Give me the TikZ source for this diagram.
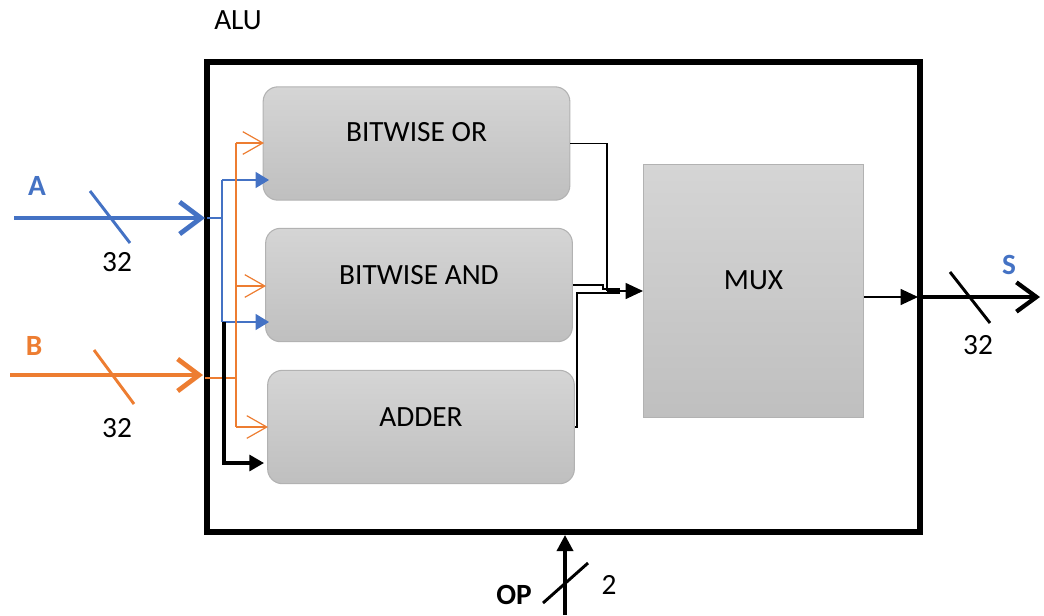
\documentclass[tikz,border=0pt]{standalone}
\usepackage{fontspec}
\setmainfont{Carlito}
\usetikzlibrary{arrows.meta}
\definecolor{abus}{HTML}{4472C4}
\definecolor{bbus}{HTML}{ED7D31}
\tikzset{
  unit/.style={draw=gray!60, line width=0.8pt, rounded corners=11pt,
    top color=gray!33, bottom color=gray!50, minimum width=230pt, minimum height=85pt},
  txt/.style={font=\fontsize{22}{26}\selectfont},
  btxt/.style={font=\fontsize{22}{26}\selectfont\bfseries},
  bus/.style={line width=3.6pt, -{Straight Barb[length=16pt,width=24pt,line width=3.6pt]}},
  tick/.style={line width=2.2pt},
  wire/.style={line width=0.9pt},
}
\begin{document}
\begin{tikzpicture}[x=0.75pt,y=-0.75pt]
  \useasboundingbox (0,0) rectangle (1044,615);
  % outer box
  \draw[line width=3.8pt] (207,62) rectangle (920,532);
  \node[txt] (alu) at (238,20) {ALU};
  % the three units and the mux
  \node[unit] (bor) at (416.5,143.5) [label={[txt,yshift=8.5pt]center:BITWISE OR}] {};
  \node[unit] (band) at (419,285) [label={[txt,yshift=7.5pt]center:BITWISE AND}] {};
  \node[unit] (badd) at (421,427) [label={[txt,yshift=7.5pt]center:ADDER}] {};
  \node[unit, rounded corners=0pt, minimum width=165pt, minimum height=190pt] (mux) at (753.5,291)
    [label={[txt,yshift=8pt]center:MUX}] {};
  % input A
  \draw[bus, abus] (14,218) -- (205,218);
  \draw[tick, abus] (90,191) -- (130,243);
  \node[btxt, abus] (la) at (37,186) {A};
  \node[txt] (wa) at (117,262) {32};
  % input B
  \draw[bus, bbus] (10,375) -- (203,375);
  \draw[tick, bbus] (94,350) -- (134,404);
  \node[btxt, bbus] (lb) at (34,346) {B};
  \node[txt] (wb) at (117,428) {32};
  % A fans out
  \draw[wire, abus] (207,218) -- (222,218);
  \draw[wire, abus] (222,180) -- (222,322);
  \foreach \y in {180,322}
    \draw[wire, abus, -{Triangle[length=10pt,width=12pt]}] (222,\y) -- (269,\y);
  % B fans out
  \draw[wire, bbus] (205,378) -- (236,378);
  \draw[wire, bbus] (236,143) -- (236,427);
  \foreach \y / \x in {143/264,286/266,427/268}
    \draw[wire, bbus, -{Straight Barb[length=15pt,width=17pt]}] (236,\y) -- (\x,\y);
  % carry in
  \draw[line width=2.4pt, -{Triangle[length=11pt,width=12pt]}] (224,322) |- (264,463);
  % results into the mux
  \coordinate (join) at (607,291);
  \draw[wire] (bor.east) -| (join);
  \draw[wire] (band.east) -- (603,285) -- (603,289) -- (620,289);
  \draw[wire] (badd.east) -| (577,293) -- (620,293);
  \draw[wire, -{Triangle[length=13pt,width=12pt]}] (join) -- (mux.west);
  % output S
  \draw[wire, -{Triangle[length=13pt,width=12pt]}] (864,297) -- (918,297);
  \draw[line width=3.2pt, -{Straight Barb[length=15pt,width=22pt,line width=3.2pt]}] (920,297) -- (1040,297);
  \draw[tick] (950,272) -- (990,323);
  \node[btxt, abus] (ls) at (1009,265) {S};
  \node[txt] (ws) at (978,345) {32};
  % opcode
  \draw[line width=2.6pt, -{Triangle[length=12pt,width=12pt]}] (565,615) -- (565,535);
  \draw[tick] (543,603) -- (588,563);
  \node[btxt] (lop) at (514,595) {OP};
  \node[txt] (wop) at (609,585) {2};
\end{tikzpicture}
\end{document}
